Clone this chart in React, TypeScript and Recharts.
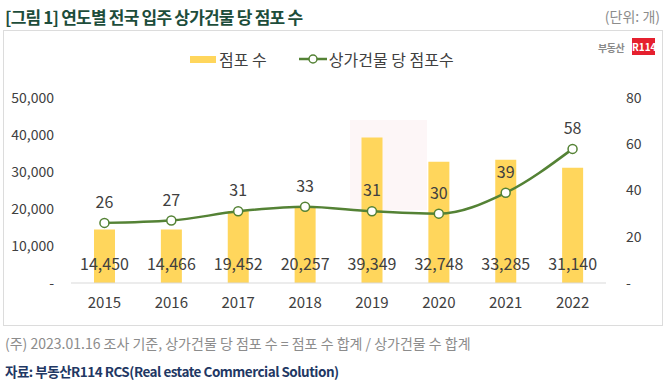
import {
  ComposedChart,
  Bar,
  Line,
  XAxis,
  YAxis,
  LabelList,
} from "recharts";

const years = ["2015", "2016", "2017", "2018", "2019", "2020", "2021", "2022"];
const storeCounts = [14450, 14466, 19452, 20257, 39349, 32748, 33285, 31140];
const storesPerBuilding = [26, 27, 31, 33, 31, 30, 39, 58];
const leftTicks = [0, 10000, 20000, 30000, 40000, 50000];
const rightTicks = [0, 20, 40, 60, 80];

const data = years.map((year, i) => ({
  year,
  stores: storeCounts[i],
  perBuilding: storesPerBuilding[i],
}));

const FONT = "'Noto Sans CJK KR', 'Noto Sans', sans-serif";
const BAR = "#FFD65C";
const GREEN = "#548235";
const TEXT = "#404040";

const fmt = (v: number) => (v === 0 ? "-" : v.toLocaleString("en-US"));

const BarValue = (props: any) => {
  const { x, y, width, height, value } = props;
  const base = Number(y) + Number(height);
  return (
    <text
      x={Number(x) + Number(width) / 2}
      y={base - 20}
      textAnchor="middle"
      dominantBaseline="central"
      fontSize={16}
      fill={TEXT}
      fontFamily={FONT}
    >
      {fmt(value)}
    </text>
  );
};

const LineValue = (props: any) => {
  const { x, y, value } = props;
  return (
    <text
      x={x}
      y={Number(y) - 22}
      textAnchor="middle"
      dominantBaseline="central"
      fontSize={16}
      fill={TEXT}
      fontFamily={FONT}
    >
      {value}
    </text>
  );
};

export default function App() {
  return (
    <div
      style={{
        position: "absolute",
        left: 0,
        top: 0,
        width: 666,
        height: 391,
        background: "#fff",
        fontFamily: FONT,
        overflow: "hidden",
      }}
    >
      <div
        style={{
          position: "absolute",
          left: 5,
          top: 4,
          fontSize: 17,
          fontWeight: 700,
          color: "#1d4d3b",
          letterSpacing: -0.8,
          whiteSpace: "nowrap",
        }}
      >
        [그림 1] 연도별 전국 입주 상가건물 당 점포 수
      </div>
      <div
        style={{
          position: "absolute",
          right: 6,
          top: 6,
          fontSize: 14,
          color: "#8c8c8c",
        }}
      >
        (단위: 개)
      </div>

      <div
        style={{
          position: "absolute",
          left: 3,
          top: 30,
          width: 658,
          height: 294,
          border: "1px solid #dcdcdc",
        }}
      />

      {/* faint watermark block */}
      <div
        style={{
          position: "absolute",
          left: 350,
          top: 120,
          width: 77,
          height: 90,
          background: "rgba(240, 190, 195, 0.14)",
        }}
      />

      {/* logo */}
      <div
        style={{
          position: "absolute",
          left: 598,
          top: 40,
          fontSize: 10,
          fontWeight: 700,
          color: "#8a8a8a",
          letterSpacing: -0.5,
        }}
      >
        부동산
      </div>
      <div
        style={{
          position: "absolute",
          left: 632,
          top: 38,
          width: 23,
          height: 17,
          background: "#e5202e",
          color: "#fff",
          fontSize: 10,
          fontWeight: 700,
          lineHeight: "17px",
          textAlign: "center",
        }}
      >
        R114
      </div>

      {/* legend */}
      <div
        style={{
          position: "absolute",
          left: 190,
          top: 47,
          display: "flex",
          alignItems: "center",
          fontSize: 16,
          color: TEXT,
          whiteSpace: "nowrap",
        }}
      >
        <span
          style={{
            display: "inline-block",
            width: 26,
            height: 7,
            background: BAR,
            marginRight: 3,
          }}
        />
        <span>점포 수</span>
        <svg width={28} height={12} style={{ marginLeft: 32, marginRight: 2 }}>
          <line x1={0} y1={6} x2={28} y2={6} stroke={GREEN} strokeWidth={2.5} />
          <circle cx={14} cy={6} r={4} fill="#fff" stroke={GREEN} strokeWidth={1.5} />
        </svg>
        <span>상가건물 당 점포수</span>
      </div>

      <div style={{ position: "absolute", left: 0, top: 0 }}>
        <ComposedChart
          width={666}
          height={320}
          data={data}
          margin={{ top: 98, right: 0, bottom: 0, left: 0 }}
        >
          <XAxis
            dataKey="year"
            height={37}
            axisLine={{ stroke: "#d9d9d9" }}
            tickLine={false}
            tickSize={0}
            tickMargin={14}
            tick={{ fontSize: 15, fill: TEXT, fontFamily: FONT }}
          />
          <YAxis
            yAxisId="left"
            width={71}
            domain={[0, 50000]}
            ticks={leftTicks}
            tickFormatter={fmt}
            axisLine={false}
            tickLine={false}
            tickSize={0}
            tickMargin={17}
            tick={{ fontSize: 14, fill: TEXT, fontFamily: FONT }}
          />
          <YAxis
            yAxisId="right"
            orientation="right"
            width={60}
            domain={[0, 80]}
            ticks={rightTicks}
            tickFormatter={fmt}
            axisLine={false}
            tickLine={false}
            tickSize={0}
            tickMargin={20}
            tick={{ fontSize: 14, fill: TEXT, fontFamily: FONT }}
          />
          <Bar
            yAxisId="left"
            dataKey="stores"
            fill={BAR}
            barSize={21}
            isAnimationActive={false}
          >
            <LabelList dataKey="stores" content={BarValue} />
          </Bar>
          <Line
            yAxisId="right"
            dataKey="perBuilding"
            type="monotone"
            stroke={GREEN}
            strokeWidth={2.5}
            dot={{ r: 4.5, fill: "#fff", stroke: GREEN, strokeWidth: 1.5 }}
            isAnimationActive={false}
          >
            <LabelList dataKey="perBuilding" content={LineValue} />
          </Line>
        </ComposedChart>
      </div>

      <div
        style={{
          position: "absolute",
          left: 5,
          top: 333,
          fontSize: 14,
          color: "#8c8c8c",
          whiteSpace: "nowrap",
        }}
      >
        (주) 2023.01.16 조사 기준, 상가건물 당 점포 수 = 점포 수 합계 / 상가건물 수 합계
      </div>
      <div
        style={{
          position: "absolute",
          left: 5,
          top: 361,
          fontSize: 13.5,
          fontWeight: 700,
          color: "#1f3864",
          letterSpacing: -0.5,
          whiteSpace: "nowrap",
        }}
      >
        자료: 부동산R114 RCS(Real estate Commercial Solution)
      </div>
    </div>
  );
}
